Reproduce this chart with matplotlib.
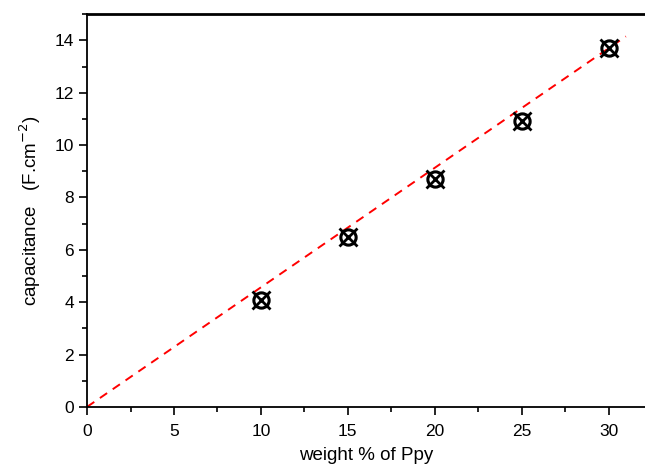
import matplotlib
matplotlib.use('Agg')
import matplotlib.pyplot as plt
from matplotlib.ticker import MultipleLocator

plt.rcParams['font.family'] = ['Liberation Sans', 'DejaVu Sans']

# measured data
weight = [10, 15, 20, 25, 30]
capacitance = [4.1, 6.5, 8.7, 10.9, 13.7]

# linear fit (dashed red line)
fit_x = [0, 31]
fit_y = [0, 14.15]

fig = plt.figure(figsize=(6.45, 4.72), dpi=100)
ax = fig.add_axes([0.135, 0.138, 0.865, 0.832])

ax.plot(fit_x, fit_y, '--', color='#ff0000', lw=1.4, dashes=(4.5, 3.5), zorder=2)
ax.plot(weight, capacitance, 'o', ms=11, mfc='none', mec='black', mew=2.2, zorder=3)
ax.plot(weight, capacitance, 'x', ms=12.5, mec='black', mew=2, zorder=3)

ax.set_xlim(0, 32.1)
ax.set_ylim(0, 15)
ax.xaxis.set_major_locator(MultipleLocator(5))
ax.xaxis.set_minor_locator(MultipleLocator(2.5))
ax.yaxis.set_major_locator(MultipleLocator(2))
ax.yaxis.set_minor_locator(MultipleLocator(1))
ax.tick_params(which='major', direction='out', length=6, width=1.2, labelsize=12.5)
ax.tick_params(which='minor', direction='out', length=3.5, width=1.2)
ax.tick_params(axis='x', pad=6)

ax.spines['right'].set_visible(False)
ax.spines['left'].set_linewidth(1.3)
ax.spines['bottom'].set_linewidth(1.3)
ax.spines['top'].set_linewidth(2)

ax.set_xlabel('weight % of Ppy', fontsize=13.5, labelpad=6)
ax.set_ylabel('capacitance   (F.cm$^{-2}$)', fontsize=13.5, labelpad=8)

fig.savefig('out.png', dpi=100)
